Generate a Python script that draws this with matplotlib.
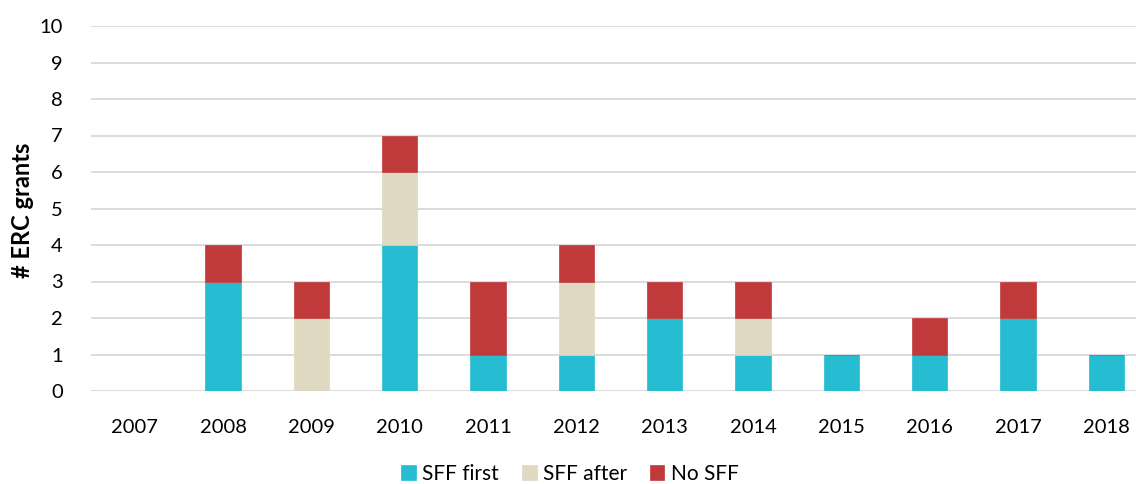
import matplotlib
matplotlib.use("Agg")
import matplotlib.pyplot as plt
import numpy as np

years = ["2007", "2008", "2009", "2010", "2011", "2012",
         "2013", "2014", "2015", "2016", "2017", "2018"]
sff_first = [0, 3, 0, 4, 1, 1, 2, 1, 1, 1, 2, 1]
sff_after = [0, 0, 2, 2, 0, 2, 0, 1, 0, 0, 0, 0]
no_sff = [0, 1, 1, 1, 2, 1, 1, 1, 0, 1, 1, 0]
series_names = ["SFF first", "SFF after", "No SFF"]
colors = ["#26BDD3", "#DFD9C1", "#C0393B"]
y_ticks = list(range(0, 11))

plt.rcParams["font.family"] = ["Lato", "DejaVu Sans"]

fig = plt.figure(figsize=(11.36, 4.84), dpi=100)
W, H = 1136, 484
left, right, bottom, top = 90.5, 1136, 391, 26
ax = fig.add_axes([left / W, 1 - bottom / H, (right - left) / W, (bottom - top) / H])

x = np.arange(len(years))
width = 0.4
base = np.zeros(len(years))
handles = []
for vals, name, col in zip([sff_first, sff_after, no_sff], series_names, colors):
    v = np.array(vals, dtype=float)
    b = ax.bar(x, v, width, bottom=base, color=col, label=name, zorder=3,
               edgecolor=col, linewidth=0.5)
    handles.append(b)
    base += v

ax.set_xlim(-0.5, 11.334)
ax.set_ylim(0, 10)
ax.set_yticks(y_ticks)
ax.set_yticklabels([str(t) for t in y_ticks], fontsize=14.5, color="#000000")
ax.set_xticks(x)
ax.set_xticklabels(years, fontsize=14.5, color="#000000")
ax.tick_params(axis="both", length=0)
ax.tick_params(axis="y", pad=20)
ax.tick_params(axis="x", pad=20)
ax.yaxis.grid(True, color="#D9D9D9", linewidth=1.3, zorder=0)
ax.set_axisbelow(True)
for s in ax.spines.values():
    s.set_visible(False)

fig.text(22 / W, 1 - 210 / H, "# ERC grants", rotation=90, fontsize=17,
         fontweight="bold", ha="center", va="center")

fig.legend(handles=handles, labels=series_names, loc="center",
           bbox_to_anchor=(570 / W, 1 - 474 / H), ncol=3, frameon=False,
           fontsize=15, handlelength=0.7, handleheight=0.7,
           handletextpad=0.3, columnspacing=1.1)

fig.savefig("out.png", dpi=100)
